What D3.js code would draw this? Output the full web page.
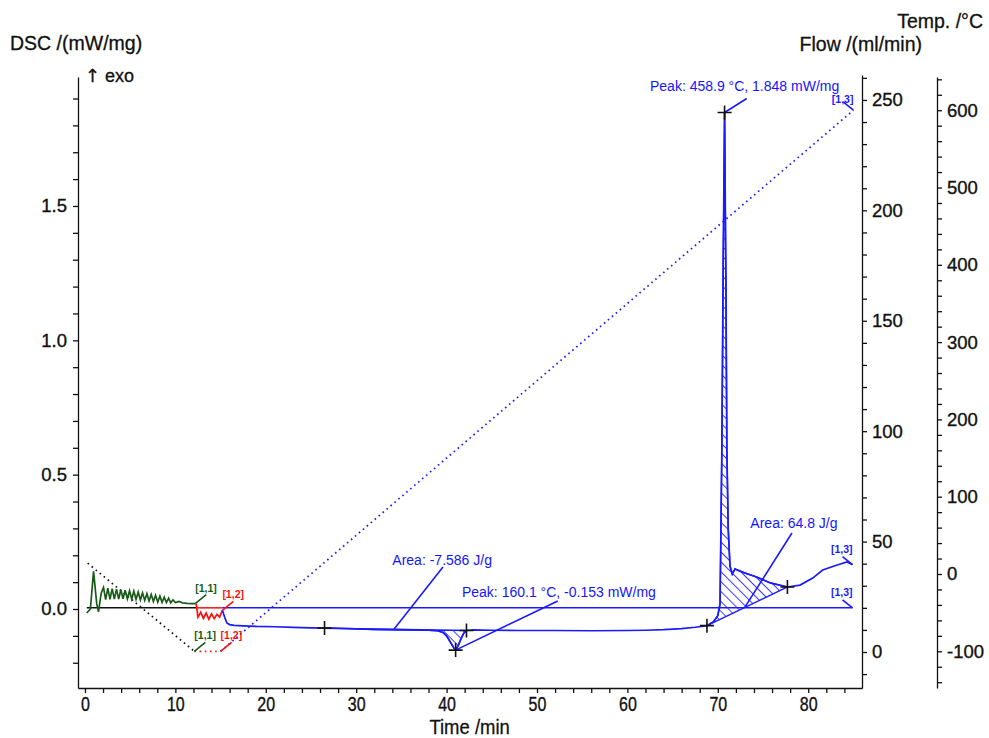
<!DOCTYPE html>
<html>
<head>
<meta charset="UTF-8">
<title>DSC</title>
<script src="https://d3js.org/d3.v7.min.js"></script>
<style>
  body { margin: 0; background: #fff; }
  svg { display: block; font-family: "Liberation Sans", Arial, sans-serif; }
  .axis path, .axis line { stroke: #111; stroke-width: 1.3; }
  .axis text { font-size: 18.5px; fill: #111; stroke: #111; stroke-width: 0.35; }
  .title { font-size: 19.5px; fill: #111; stroke: #111; stroke-width: 0.3; }
  .note { font-size: 14px; fill: #1414ff; }
  .tag { font-size: 10.5px; font-weight: bold; }
</style>
</head>
<body>
<div id="chart"></div>
<script>
// segment 1 (green, cooling), segment 2 (red, isothermal), segment 3 (blue, heating)
const dscSeg1 = [[0.2,-0.015],[0.6,0.0],[0.95,0.14],[1.3,0.02],[1.5,-0.01],[1.8,0.06],
  [2.05,0.08],[2.29,0.035],[2.53,0.078],[2.77,0.036],[3.01,0.076],[3.25,0.037],[3.49,0.074],
  [3.73,0.037],[3.97,0.072],[4.21,0.038],[4.45,0.07],[4.69,0.038],[4.93,0.068],[5.17,0.037],
  [5.41,0.066],[5.65,0.036],[5.89,0.063],[6.13,0.034],[6.37,0.06],[6.61,0.032],[6.85,0.057],
  [7.09,0.03],[7.33,0.054],[7.57,0.028],[7.81,0.051],[8.05,0.026],[8.29,0.048],[8.53,0.025],
  [8.77,0.044],[9.01,0.024],[9.25,0.04],[9.49,0.023],[9.73,0.034],[10.0,0.024],[10.4,0.028],
  [10.8,0.023],[11.3,0.021],[11.8,0.02],[12.2,0.02]];
const dscSeg2 = [[12.3,0.02],[12.5,-0.03],[12.8,-0.012],[13.1,-0.035],[13.4,-0.015],[13.7,-0.038],
  [14.0,-0.018],[14.3,-0.036],[14.6,-0.02],[14.9,-0.03],[15.2,-0.005]];
const dscSeg3 = [[15.2,-0.005],[15.5,-0.035],[15.7,-0.052],[16.0,-0.058],[16.5,-0.061],[17.5,-0.063],
  [19,-0.065],[21,-0.066],[23,-0.068],[25,-0.07],[26.5,-0.071],[28,-0.072],[30,-0.074],
  [32,-0.076],[34,-0.077],[36,-0.078],[38,-0.079],[39,-0.081],[39.6,-0.087],[40.0,-0.1],
  [40.4,-0.122],[40.8,-0.145],[41.0,-0.153],[41.3,-0.135],[41.6,-0.11],[41.9,-0.09],[42.2,-0.08],
  [43,-0.078],[45,-0.079],[48,-0.08],[52,-0.08],[56,-0.081],[60,-0.08],[62,-0.079],[64,-0.077],
  [66,-0.073],[67.5,-0.068],[68.8,-0.062],[69.5,-0.048],[70.0,-0.025],[70.25,0.02],[70.45,0.6],
  [70.6,1.3],[70.75,1.848],[70.9,1.2],[71.0,0.6],[71.15,0.3],[71.35,0.16],[71.6,0.13],
  [71.9,0.149],[72.4,0.142],[73,0.134],[74.3,0.119],[75.8,0.097],[77.7,0.082],[79.1,0.089],
  [80.5,0.115],[81.6,0.145],[83.2,0.164],[84.3,0.175],[84.9,0.165]];

const tempSeg1 = [[0.3,14],[12.1,-100]];
const tempSeg2 = [[12.1,-100],[15.0,-100]];
const tempSeg3 = [[15.0,-100],[85.0,600]];

const flowSeg1 = [[0.2,20],[12.3,20]];
const flowSeg2 = [[12.3,20],[15.2,20]];
const flowSeg3 = [[15.2,20],[84.9,20]];

// evaluation points: [time, dsc]
const baseEndo = [[26.5,-0.071],[42.2,-0.08]];
const baseExo = [[68.8,-0.062],[77.7,0.082]];
const peakEndo = [41.0,-0.153];
const peakExo = [70.75,1.848];

const timeLabels = [0,10,20,30,40,50,60,70,80];
const dscLabels = [0,0.5,1.0,1.5];
const flowLabels = [0,50,100,150,200,250];
const tempLabels = [-100,0,100,200,300,400,500,600];

const W = 989, H = 738;
const svg = d3.select("#chart").append("svg").attr("width", W).attr("height", H);

const x = d3.scaleLinear().domain([-0.77, 85.95]).range([78, 862]);
const yDsc = d3.scaleLinear().domain([-0.294, 1.98]).range([688, 77]);
const yFlow = d3.scaleLinear().domain([-16.3, 261.3]).range([688, 75]);
const yTemp = d3.scaleLinear().domain([-147.5, 643]).range([688, 77]);

const blue = "#1a1aff", green = "#185a18", red = "#ff1010";

// hatch pattern
const defs = svg.append("defs");
defs.append("pattern").attr("id", "hatch").attr("patternUnits", "userSpaceOnUse")
  .attr("width", 7).attr("height", 7).attr("patternTransform", "rotate(-45)")
  .append("line").attr("x1", 0).attr("y1", 0).attr("x2", 0).attr("y2", 7)
  .attr("stroke", blue).attr("stroke-width", 1.7);

// axes
const fmt1 = d3.format(".1f");
const xAx = svg.append("g").attr("class", "axis").attr("transform", "translate(0,688)")
  .call(d3.axisBottom(x).tickValues(d3.range(0, 85, 2)).tickSize(5).tickSizeOuter(0)
    .tickPadding(4).tickFormat(d => timeLabels.includes(d) ? d : ""));
xAx.selectAll("text").attr("transform", "scale(0.8,1)").style("font-size", "20px");

svg.append("g").attr("class", "axis").attr("transform", "translate(78,0)")
  .call(d3.axisLeft(yDsc).tickValues(d3.range(-2, 20).map(i => i / 10)).tickSize(5)
    .tickSizeOuter(0).tickPadding(6)
    .tickFormat(d => dscLabels.some(l => Math.abs(l - d) < 1e-6) ? fmt1(d) : ""));

svg.append("g").attr("class", "axis").attr("transform", "translate(862,0)")
  .call(d3.axisRight(yFlow).tickValues(d3.range(-10, 270, 10)).tickSize(5)
    .tickSizeOuter(0).tickPadding(5)
    .tickFormat(d => flowLabels.includes(d) ? d : ""));

svg.append("g").attr("class", "axis").attr("transform", "translate(937,0)")
  .call(d3.axisRight(yTemp).tickValues(d3.range(-140, 641, 20)).tickSize(5)
    .tickSizeOuter(0).tickPadding(5)
    .tickFormat(d => tempLabels.includes(d) ? d : ""));

// titles
svg.append("text").attr("class", "title").attr("x", 10).attr("y", 50).text("DSC /(mW/mg)");
const exo = svg.append("text").attr("class", "title").attr("x", 85).attr("y", 82).style("font-size", "18px");
exo.append("tspan").style("font-family", "DejaVu Sans").attr("fill", "#111").text("\u2191");
exo.append("tspan").text(" exo");
svg.append("text").attr("class", "title").attr("x", 983).attr("y", 28).attr("text-anchor", "end").text("Temp. /\u00b0C");
svg.append("text").attr("class", "title").attr("x", 922).attr("y", 51).attr("text-anchor", "end").text("Flow /(ml/min)");
svg.append("text").attr("class", "title").attr("x", 470).attr("y", 734).attr("text-anchor", "middle")
  .attr("transform", "translate(56,0) scale(0.88,1)").style("font-size", "21px").text("Time /min");

const lineDsc = d3.line().x(d => x(d[0])).y(d => yDsc(d[1]));
const lineFlow = d3.line().x(d => x(d[0])).y(d => yFlow(d[1]));
const lineTemp = d3.line().x(d => x(d[0])).y(d => yTemp(d[1]));

// hatched areas: curve between the two baseline points, closed along baseline
function hatch(b) {
  const pts = dscSeg3.filter(p => p[0] > b[0][0] && p[0] < b[1][0]);
  const poly = [b[0], ...pts, b[1]];
  svg.append("path").attr("d", lineDsc(poly) + "Z").attr("fill", "url(#hatch)")
    .attr("stroke", blue).attr("stroke-width", 1.4);
}
hatch(baseEndo);
hatch(baseExo);

// temperature (dotted)
[[tempSeg1, "#111"], [tempSeg2, red], [tempSeg3, blue]].forEach(([d, c]) => {
  svg.append("path").attr("d", lineTemp(d)).attr("fill", "none").attr("stroke", c)
    .attr("stroke-width", 1.7).attr("stroke-dasharray", "1.6,3.6");
});
// flow
[[flowSeg1, "#111"], [flowSeg2, red], [flowSeg3, blue]].forEach(([d, c]) => {
  svg.append("path").attr("d", lineFlow(d)).attr("fill", "none").attr("stroke", c).attr("stroke-width", 1.5);
});
// dsc
[[dscSeg1, green], [dscSeg2, red], [dscSeg3, blue]].forEach(([d, c]) => {
  svg.append("path").attr("d", lineDsc(d)).attr("fill", "none").attr("stroke", c).attr("stroke-width", 1.7);
});

// segment tags with short hooks
function tag(px, py, color, txt) {
  svg.append("line").attr("x1", px).attr("y1", py).attr("x2", px + 11).attr("y2", py - 9)
    .attr("stroke", color).attr("stroke-width", 1.6);
  svg.append("text").attr("class", "tag").attr("x", px).attr("y", py - 12).attr("fill", color).text(txt);
}
function tagEnd(px, py, color, txt, dy) {
  svg.append("line").attr("x1", px).attr("y1", py).attr("x2", px - 10).attr("y2", py - 8)
    .attr("stroke", color).attr("stroke-width", 1.6);
  svg.append("text").attr("class", "tag").attr("x", px).attr("y", py - dy)
    .attr("text-anchor", "end").attr("fill", color).text(txt);
}
tag(x(12.2), yDsc(0.02), green, "[1,1]");
tag(x(12.1), yTemp(-100), green, "[1,1]");
tag(x(15.2), yDsc(-0.005), red, "[1,2]");
tag(x(15.0), yTemp(-100), red, "[1,2]");
tagEnd(x(84.9), yDsc(0.165), blue, "[1,3]", 12);
tagEnd(x(84.9), yFlow(20), blue, "[1,3]", 12);
tagEnd(x(85.0), yTemp(600), blue, "[1,3]", 7);

// annotations
function note(tx, tv, txt, from, to) {
  svg.append("line").attr("x1", x(from[0])).attr("y1", yDsc(from[1]))
    .attr("x2", x(to[0])).attr("y2", yDsc(to[1])).attr("stroke", blue).attr("stroke-width", 1.6);
  svg.append("text").attr("class", "note").attr("x", x(tx)).attr("y", yDsc(tv)).text(txt);
}
note(62.5, 1.928, "Peak: 458.9 \u00b0C, 1.848 mW/mg", [73.2, 1.9], peakExo);
note(34.0, 0.164, "Area: -7.586 J/g", [39.6, 0.156], [34.2, -0.0745]);
note(41.7, 0.045, "Peak: 160.1 \u00b0C, -0.153 mW/mg", [52.3, 0.03], peakEndo);
note(73.6, 0.302, "Area: 64.8 J/g", [78.2, 0.283], [73.0, 0.007]);

// crosses
const marks = [baseEndo[0], baseEndo[1], peakEndo, baseExo[0], baseExo[1], peakExo];
svg.selectAll(".mark").data(marks).enter().append("path").attr("class", "mark")
  .attr("d", d => `M${x(d[0]) - 7},${yDsc(d[1])}h14M${x(d[0])},${yDsc(d[1]) - 7}v14`)
  .attr("stroke", "#111").attr("stroke-width", 1.6);
</script>
</body>
</html>
